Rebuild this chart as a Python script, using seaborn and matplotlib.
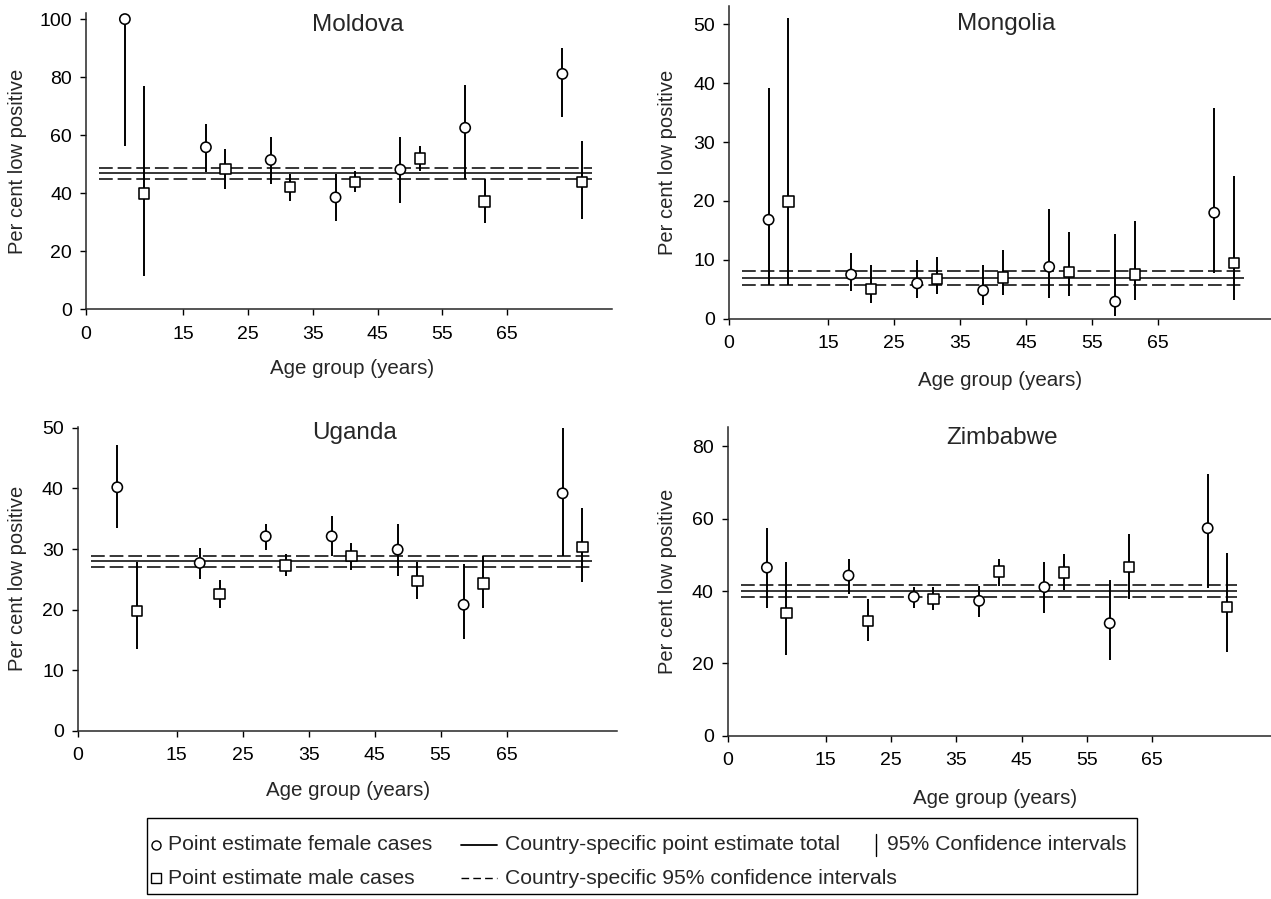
import matplotlib
matplotlib.use("Agg")
import matplotlib.pyplot as plt
import matplotlib.transforms as mtransforms
from matplotlib.lines import Line2D
from matplotlib.patches import Rectangle
import seaborn as sns
import pandas as pd

sns.set_style("ticks")
plt.rcParams['font.family'] = ['Liberation Sans', 'DejaVu Sans']

# ---------------- data ----------------
age_groups = ['0-14', '15-24', '25-34', '35-44', '45-54', '55-64', '65+']
age_mid = [7.5, 20, 30, 40, 50, 60, 75]
xticks = [0, 15, 25, 35, 45, 55, 65]

countries = ['Moldova', 'Mongolia', 'Uganda', 'Zimbabwe']

moldova_f = [100, 55.8, 51.4, 38.5, 48.1, 62.5, 81.1]
moldova_f_lo = [56.3, 47.1, 43.2, 30.3, 36.5, 45.0, 66.4]
moldova_f_hi = [100, 63.8, 59.3, 46.7, 59.5, 77.1, 90.0]
moldova_m = [39.8, 48.2, 42.0, 43.7, 51.9, 37.1, 43.7]
moldova_m_lo = [11.5, 41.4, 37.4, 40.2, 47.5, 29.7, 31.0]
moldova_m_hi = [76.9, 55.2, 46.7, 47.6, 56.3, 44.9, 57.8]
moldova_total = [47.0, 45.0, 48.7]

mongolia_f = [16.8, 7.5, 6.0, 4.8, 8.8, 2.9, 18.0]
mongolia_f_lo = [5.7, 4.7, 3.5, 2.3, 3.6, 0.4, 7.8]
mongolia_f_hi = [39.2, 11.2, 9.9, 9.1, 18.7, 14.3, 35.7]
mongolia_m = [19.9, 5.1, 6.7, 7.0, 7.9, 7.5, 9.4]
mongolia_m_lo = [5.7, 2.7, 4.2, 4.1, 3.9, 3.2, 3.1]
mongolia_m_hi = [51.1, 9.2, 10.4, 11.6, 14.7, 16.6, 24.3]
mongolia_total = [6.9, 5.7, 8.1]

uganda_f = [40.2, 27.7, 32.1, 32.1, 29.9, 20.8, 39.2]
uganda_f_lo = [33.4, 25.1, 29.8, 28.8, 25.6, 15.1, 28.8]
uganda_f_hi = [47.1, 30.1, 34.2, 35.5, 34.2, 27.6, 50.0]
uganda_m = [19.8, 22.6, 27.3, 28.8, 24.7, 24.3, 30.3]
uganda_m_lo = [13.5, 20.3, 25.5, 26.6, 21.8, 20.3, 24.6]
uganda_m_hi = [27.9, 24.9, 29.1, 31.0, 27.9, 28.8, 36.8]
uganda_total = [28.0, 27.1, 28.8]

zimbabwe_f = [46.5, 44.3, 38.4, 37.3, 41.1, 31.1, 57.4]
zimbabwe_f_lo = [35.4, 39.3, 35.2, 32.9, 34.0, 20.8, 40.8]
zimbabwe_f_hi = [57.4, 49.0, 41.2, 41.4, 48.1, 43.0, 72.3]
zimbabwe_m = [34.0, 31.7, 37.9, 45.4, 45.1, 46.6, 35.6]
zimbabwe_m_lo = [22.2, 26.3, 34.8, 41.5, 40.2, 37.7, 23.1]
zimbabwe_m_hi = [48.1, 37.7, 41.2, 49.0, 50.2, 55.8, 50.5]
zimbabwe_total = [40.1, 38.5, 41.6]

yticks = {
    'Moldova': [0, 20, 40, 60, 80, 100],
    'Mongolia': [0, 10, 20, 30, 40, 50],
    'Uganda': [0, 10, 20, 30, 40, 50],
    'Zimbabwe': [0, 20, 40, 60, 80],
}

series = {
    'Moldova': (moldova_f, moldova_f_lo, moldova_f_hi, moldova_m, moldova_m_lo, moldova_m_hi, moldova_total),
    'Mongolia': (mongolia_f, mongolia_f_lo, mongolia_f_hi, mongolia_m, mongolia_m_lo, mongolia_m_hi, mongolia_total),
    'Uganda': (uganda_f, uganda_f_lo, uganda_f_hi, uganda_m, uganda_m_lo, uganda_m_hi, uganda_total),
    'Zimbabwe': (zimbabwe_f, zimbabwe_f_lo, zimbabwe_f_hi, zimbabwe_m, zimbabwe_m_lo, zimbabwe_m_hi, zimbabwe_total),
}

# ---------------- layout ----------------
W, H = 1271, 899
fig = plt.figure(figsize=(W / 100, H / 100), dpi=100)


def fx(x):
    return x / W


def fy(y):
    return 1 - y / H


layout = {
    'Moldova': dict(box=(86, 612.3, 13.3, 309), xmax=81.2, ymax=102, ty=0.96, ylx=18, xly=368),
    'Mongolia': dict(box=(729, 1271, 6, 318.7), xmax=82.1, ymax=53.1, ty=0.942, ylx=668, xly=380),
    'Uganda': dict(box=(77.7, 616.7, 426.7, 730.7), xmax=81.7, ymax=50.2, ty=0.979, ylx=18, xly=790),
    'Zimbabwe': dict(box=(727.7, 1271, 427.3, 735.7), xmax=83.2, ymax=85.3, ty=0.965, ylx=668, xly=798),
}

offset = 1.5
for c in countries:
    L = layout[c]
    l, r, t, b = L['box']
    ax = fig.add_axes([fx(l), fy(b), (r - l) / W, (b - t) / H])
    f, flo, fhi, m, mlo, mhi, tot = series[c]
    df = pd.DataFrame({
        'x': [a - offset for a in age_mid] + [a + offset for a in age_mid],
        'y': f + m, 'lo': flo + mlo, 'hi': fhi + mhi,
        'sex': ['Female'] * len(f) + ['Male'] * len(m),
        'age': age_groups + age_groups,
    })
    ax.hlines(tot[0], 2, 78, colors='black', lw=1.1, zorder=1)
    ax.hlines(tot[1:], 2, 78, colors='black', lw=1.1, linestyles=[(0, (9, 3.2))], zorder=1)
    ax.vlines(df['x'], df['lo'], df['hi'], colors='black', lw=1.4, zorder=2)
    sns.scatterplot(data=df, x='x', y='y', style='sex', markers={'Female': 'o', 'Male': 's'},
                    s=55, color='white', edgecolor='black', linewidth=1.15, ax=ax,
                    legend=False, zorder=3, clip_on=False)
    ax.set_xlim(0, L['xmax'])
    ax.set_ylim(0, L['ymax'])
    ax.set_xticks(xticks)
    ax.set_yticks(yticks[c])
    ax.set_xlabel('')
    ax.set_ylabel('')
    sns.despine(ax=ax)
    for s in ['left', 'bottom']:
        ax.spines[s].set_linewidth(1.1)
    ax.tick_params(axis='both', direction='out', length=4, width=1.0, labelsize=14, colors='black')
    ax.tick_params(axis='x', pad=8)
    ax.tick_params(axis='y', pad=6)
    ax.text(42, L['ty'], c, transform=ax.get_xaxis_transform(), ha='center', va='center', fontsize=17.5)
    ax.text(fx(L['ylx']), (fy(t) + fy(b)) / 2, 'Per cent low positive', transform=fig.transFigure,
            rotation=90, ha='center', va='center', fontsize=14.5)
    ax.text(41, fy(L['xly']), 'Age group (years)',
            transform=mtransforms.blended_transform_factory(ax.transData, fig.transFigure),
            ha='center', va='center', fontsize=14.8)

# ---------------- legend ----------------
lg_fs = 15.2
fig.patches.append(Rectangle((fx(147), fy(894)), (1137 - 147) / W, (894 - 818) / H,
                             transform=fig.transFigure, fill=False, edgecolor='black', lw=1.0))
r1, r2 = 845, 878
fig.lines.append(Line2D([fx(156)], [fy(r1)], marker='o', ms=6.5, mfc='white', mec='black', mew=1.0,
                        transform=fig.transFigure))
fig.lines.append(Line2D([fx(156)], [fy(r2)], marker='s', ms=6.5, mfc='white', mec='black', mew=1.0,
                        transform=fig.transFigure))
fig.lines.append(Line2D([fx(461), fx(497)], [fy(r1), fy(r1)], color='black', lw=1.3, transform=fig.transFigure))
fig.lines.append(Line2D([fx(461), fx(497)], [fy(r2), fy(r2)], color='black', lw=1.0,
                        dashes=(5.5, 3), transform=fig.transFigure))
fig.lines.append(Line2D([fx(876), fx(876)], [fy(r1 - 11), fy(r1 + 11)], color='black', lw=1.0,
                        transform=fig.transFigure))
fig.text(fx(168), fy(r1), 'Point estimate female cases', ha='left', va='center', fontsize=lg_fs)
fig.text(fx(168), fy(r2), 'Point estimate male cases', ha='left', va='center', fontsize=lg_fs)
fig.text(fx(505), fy(r1), 'Country-specific point estimate total', ha='left', va='center', fontsize=lg_fs)
fig.text(fx(505), fy(r2), 'Country-specific 95% confidence intervals', ha='left', va='center', fontsize=lg_fs)
fig.text(fx(887), fy(r1), '95% Confidence intervals', ha='left', va='center', fontsize=lg_fs)

fig.savefig('out.png', dpi=100)
